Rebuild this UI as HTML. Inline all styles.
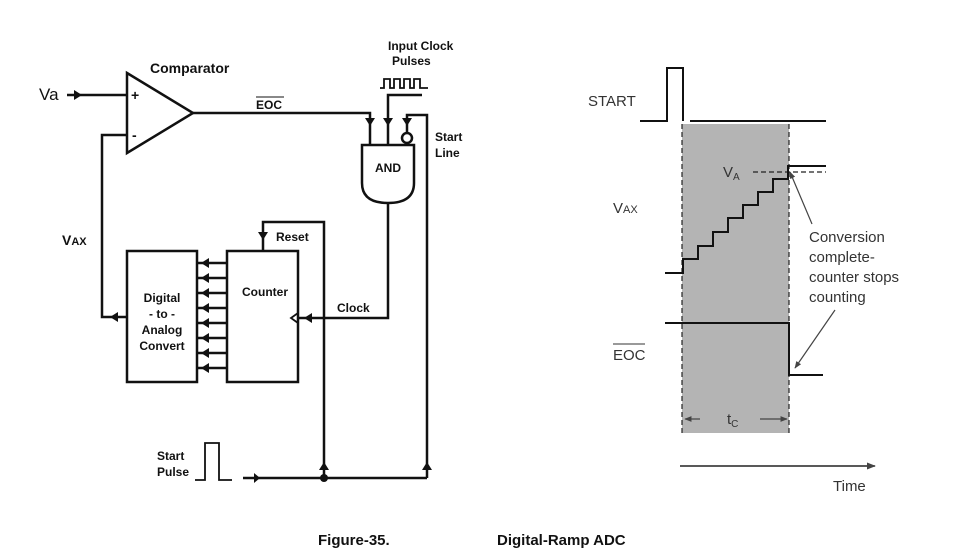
<!DOCTYPE html>
<html><head><meta charset="utf-8"><style>
html,body{margin:0;padding:0;background:#fff;}
svg{display:block;}
text{font-family:"Liberation Sans",sans-serif;fill:#111;}
.b{font-weight:bold;}
</style></head><body>
<svg width="978" height="556" viewBox="0 0 978 556" xmlns="http://www.w3.org/2000/svg">
<defs>
<marker id="ag" viewBox="0 0 10 10" refX="9" refY="5" markerWidth="6" markerHeight="6" orient="auto"><path d="M0,1L10,5L0,9z" fill="#444"/></marker>
</defs>
<g stroke="#111" stroke-width="2.5" fill="none">
<path d="M127,73 L193,113 L127,153 Z"/>
<line x1="67" y1="95" x2="127" y2="95"/>
<path d="M127,135 H102 V317 H127"/>
<path d="M193,113 H370 V145"/>
<path d="M388,145 V95 H422"/>
<path d="M380,88 H384 V79 H390 V88 H394 V79 H400 V88 H404 V79 H410 V88 H414 V79 H420 V88 H428" stroke-width="1.8"/>
<path d="M407,133 V115 H427 V478"/>
<circle cx="407" cy="138" r="5" fill="#fff"/>
<path d="M362,145 H414 V183 Q414,203 388,203 Q362,203 362,183 Z"/>
<path d="M388,203 V318 H298"/>
<rect x="127" y="251" width="70" height="131"/>
<rect x="227" y="251" width="71" height="131"/>
<path d="M298,313 L291,318 L298,323" stroke-width="1.8"/>
<path d="M263,251 V222 H324 V478"/>
<path d="M243,478 H427"/>
<path d="M195,480 H205 V443 H219 V480 H232" stroke-width="1.8"/>
</g>
<g fill="#111">
<path d="M74,90 L82,95 L74,100 Z"/>
<path d="M365,118 L375,118 L370,126 Z"/>
<path d="M383,118 L393,118 L388,126 Z"/>
<path d="M402,118 L412,118 L407,126 Z"/>
<path d="M258,232 L268,232 L263,240 Z"/>
<path d="M318,318 L310,313 L310,323 Z" transform="translate(-6,0) rotate(180 314 318)"/>
<path d="M110,317 L118,312 L118,322 Z"/>
<path d="M319,470 L329,470 L324,462 Z"/>
<path d="M422,470 L432,470 L427,462 Z"/>
<path d="M260,473 L260,483 L254,478 Z" transform="rotate(180 257 478)"/>
<circle cx="324" cy="478" r="4"/>
</g>
<g stroke="#111" stroke-width="2.5">
<line x1="197" y1="263" x2="227" y2="263"/><line x1="197" y1="278" x2="227" y2="278"/>
<line x1="197" y1="293" x2="227" y2="293"/><line x1="197" y1="308" x2="227" y2="308"/>
<line x1="197" y1="323" x2="227" y2="323"/><line x1="197" y1="338" x2="227" y2="338"/>
<line x1="197" y1="353" x2="227" y2="353"/><line x1="197" y1="368" x2="227" y2="368"/>
</g>
<g fill="#111">
<path d="M201,263 L209,258 L209,268Z"/><path d="M201,278 L209,273 L209,283Z"/>
<path d="M201,293 L209,288 L209,298Z"/><path d="M201,308 L209,303 L209,313Z"/>
<path d="M201,323 L209,318 L209,328Z"/><path d="M201,338 L209,333 L209,343Z"/>
<path d="M201,353 L209,348 L209,358Z"/><path d="M201,368 L209,363 L209,373Z"/>
</g>
<text x="39" y="100" font-size="17">Va</text>
<text x="131" y="100" font-size="14" class="b">+</text>
<text x="132" y="140" font-size="14" class="b">-</text>
<text x="150" y="73" font-size="14" class="b">Comparator</text>
<text x="256" y="109" font-size="12" class="b">EOC</text>
<line x1="256" y1="97" x2="284" y2="97" stroke="#111" stroke-width="1"/>
<text x="388" y="50" font-size="12" class="b">Input Clock</text>
<text x="392" y="65" font-size="12" class="b">Pulses</text>
<text x="435" y="141" font-size="12" class="b">Start</text>
<text x="435" y="157" font-size="12" class="b">Line</text>
<text x="388" y="172" font-size="12" class="b" text-anchor="middle">AND</text>
<text x="62" y="245" font-size="14" class="b">V<tspan font-size="11">AX</tspan></text>
<text x="276" y="241" font-size="12" class="b">Reset</text>
<text x="265" y="296" font-size="12" class="b" text-anchor="middle">Counter</text>
<text x="337" y="312" font-size="12" class="b">Clock</text>
<text x="162" y="302" font-size="12" class="b" text-anchor="middle">Digital</text>
<text x="162" y="318" font-size="12" class="b" text-anchor="middle">- to -</text>
<text x="162" y="334" font-size="12" class="b" text-anchor="middle">Analog</text>
<text x="162" y="350" font-size="12" class="b" text-anchor="middle">Convert</text>
<text x="157" y="460" font-size="12" class="b">Start</text>
<text x="157" y="476" font-size="12" class="b">Pulse</text>
<rect x="682" y="124" width="107" height="309" fill="#b4b4b4"/>
<g stroke="#222" stroke-width="1.2" stroke-dasharray="5,3" fill="none">
<line x1="682" y1="124" x2="682" y2="433"/>
<line x1="789" y1="124" x2="789" y2="433"/>
<line x1="753" y1="172" x2="826" y2="172"/>
</g>
<g stroke="#111" stroke-width="2" fill="none">
<path d="M640,121 H667 V68 H683 V121"/>
<line x1="690" y1="121" x2="826" y2="121"/>
<path d="M665,273 H683 V259 H698 V246 H713 V232 H728 V218 H743 V205 H758 V192 H773 V179 H788 V166 H826"/>
<path d="M665,323 H789 V375 H823"/>
</g>
<g stroke="#444" stroke-width="1.2" fill="none">
<line x1="812" y1="224" x2="790" y2="172" marker-end="url(#ag)"/>
<line x1="835" y1="310" x2="795" y2="368" marker-end="url(#ag)"/>
<line x1="700" y1="419" x2="685" y2="419" marker-end="url(#ag)"/>
<line x1="760" y1="419" x2="787" y2="419" marker-end="url(#ag)"/>
<line x1="680" y1="466" x2="875" y2="466" stroke="#222" stroke-width="1.5" marker-end="url(#ag)"/>
</g>
<g font-size="15">
<text x="588" y="106" style="fill:#333">START</text>
<text x="613" y="213" style="fill:#333">V<tspan font-size="11">AX</tspan></text>
<text x="723" y="177" style="fill:#333">V<tspan font-size="10" dy="3">A</tspan></text>
<text x="613" y="360" style="fill:#333">EOC</text>
<text x="809" y="242" style="fill:#333">Conversion</text>
<text x="809" y="262" style="fill:#333">complete-</text>
<text x="809" y="282" style="fill:#333">counter stops</text>
<text x="809" y="302" style="fill:#333">counting</text>
<text x="727" y="424" style="fill:#333">t<tspan font-size="10" dy="3">C</tspan></text>
<text x="833" y="491" style="fill:#333">Time</text>
</g>
<line x1="613" y1="344" x2="645" y2="344" stroke="#333" stroke-width="1"/>
<text x="318" y="545" font-size="15" class="b">Figure-35.</text>
<text x="497" y="545" font-size="15" class="b">Digital-Ramp ADC</text>
</svg>
</body></html>
